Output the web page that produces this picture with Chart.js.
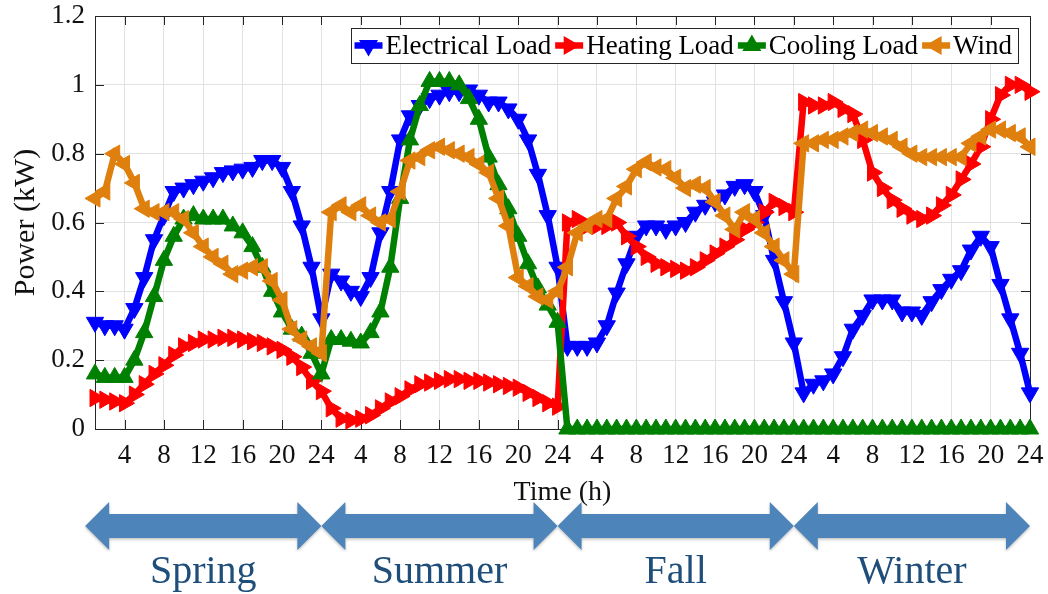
<!DOCTYPE html>
<html>
<head>
<meta charset="utf-8">
<script src="https://cdn.jsdelivr.net/npm/chart.js@4.4.1/dist/chart.umd.min.js"></script>
<style>
  html, body { margin: 0; padding: 0; background: #fff; }
</style>
</head>
<body>
<canvas id="powerChart" width="1048" height="594"></canvas>
<script>
// 24 hourly values per season, in the order spring, summer, fall, winter
const seasons = ['Spring', 'Summer', 'Fall', 'Winter'];
const xTickHours = [4, 8, 12, 16, 20, 24, 28, 32, 36, 40, 44, 48,
                    52, 56, 60, 64, 68, 72, 76, 80, 84, 88, 92, 96];

const electricalLoad = [
  0.31, 0.30, 0.30, 0.29, 0.35, 0.44, 0.55, 0.62, 0.69, 0.70, 0.71, 0.72,
  0.73, 0.745, 0.75, 0.755, 0.76, 0.78, 0.78, 0.76, 0.69, 0.59, 0.47, 0.32,
  0.45, 0.43, 0.40, 0.385, 0.44, 0.57, 0.69, 0.84, 0.91, 0.94, 0.96, 0.97,
  0.98, 0.98, 0.985, 0.97, 0.95, 0.95, 0.93, 0.90, 0.84, 0.74, 0.62, 0.47,
  0.24, 0.24, 0.24, 0.25, 0.30, 0.395, 0.48, 0.56, 0.59, 0.59, 0.58, 0.59,
  0.60, 0.63, 0.65, 0.66, 0.68, 0.705, 0.71, 0.69, 0.62, 0.49, 0.37, 0.25,
  0.105, 0.13, 0.14, 0.16, 0.21, 0.29, 0.33, 0.375, 0.375, 0.375, 0.34, 0.34,
  0.33, 0.37, 0.405, 0.435, 0.46, 0.52, 0.56, 0.53, 0.42, 0.32, 0.22, 0.105
];
const heatingLoad = [
  0.09, 0.085, 0.08, 0.075, 0.10, 0.13, 0.16, 0.185, 0.215, 0.24, 0.25, 0.26,
  0.26, 0.265, 0.265, 0.26, 0.255, 0.25, 0.24, 0.23, 0.21, 0.18, 0.14, 0.11,
  0.06, 0.03, 0.025, 0.03, 0.04, 0.06, 0.08, 0.095, 0.115, 0.13, 0.135, 0.14,
  0.145, 0.145, 0.14, 0.14, 0.135, 0.13, 0.125, 0.12, 0.105, 0.09, 0.075, 0.065,
  0.60, 0.61, 0.59, 0.59, 0.59, 0.60, 0.56, 0.53, 0.50, 0.48, 0.47, 0.465,
  0.46, 0.47, 0.49, 0.51, 0.53, 0.55, 0.58, 0.60, 0.63, 0.66, 0.645, 0.63,
  0.95, 0.94, 0.94, 0.95, 0.93, 0.915, 0.84, 0.745, 0.70, 0.665, 0.64, 0.62,
  0.61, 0.62, 0.65, 0.68, 0.725, 0.77, 0.82, 0.90, 0.97, 1.00, 1.00, 0.98
];
const coolingLoad = [
  0.16, 0.15, 0.15, 0.15, 0.20, 0.28, 0.385, 0.49, 0.56, 0.61, 0.62, 0.61,
  0.61, 0.61, 0.59, 0.57, 0.53, 0.47, 0.40, 0.34, 0.29, 0.27, 0.22, 0.16,
  0.26, 0.26, 0.255, 0.25, 0.28, 0.34, 0.47, 0.67, 0.84, 0.94, 1.01, 1.01,
  1.01, 1.00, 0.96, 0.90, 0.79, 0.71, 0.64, 0.56, 0.48, 0.41, 0.36, 0.31,
  0, 0, 0, 0, 0, 0, 0, 0, 0, 0, 0, 0,
  0, 0, 0, 0, 0, 0, 0, 0, 0, 0, 0, 0,
  0, 0, 0, 0, 0, 0, 0, 0, 0, 0, 0, 0,
  0, 0, 0, 0, 0, 0, 0, 0, 0, 0, 0, 0
];
const windPower = [
  0.67, 0.69, 0.80, 0.77, 0.715, 0.64, 0.63, 0.63, 0.63, 0.61, 0.57, 0.53,
  0.50, 0.48, 0.45, 0.46, 0.47, 0.47, 0.43, 0.375, 0.29, 0.26, 0.24, 0.22,
  0.63, 0.65, 0.63, 0.65, 0.62, 0.60, 0.61, 0.69, 0.78, 0.79, 0.81, 0.82,
  0.81, 0.80, 0.79, 0.77, 0.745, 0.67, 0.59, 0.44, 0.415, 0.385, 0.375, 0.40,
  0.47, 0.57, 0.59, 0.61, 0.61, 0.67, 0.705, 0.755, 0.775, 0.76, 0.755, 0.73,
  0.70, 0.71, 0.70, 0.66, 0.62, 0.58, 0.63, 0.61, 0.57, 0.53, 0.49, 0.45,
  0.83, 0.83, 0.84, 0.84, 0.85, 0.86, 0.87, 0.86, 0.85, 0.84, 0.82, 0.80,
  0.79, 0.79, 0.79, 0.79, 0.79, 0.83, 0.85, 0.87, 0.87, 0.86, 0.85, 0.82
];

const FONT = '"Liberation Serif", "Times New Roman", serif';
const AXIS = '#262626';

function series(label, values, color, rotation, order) {
  return {
    label: label,
    order: order,
    data: values.map((v, i) => ({ x: i + 1, y: v })),
    borderColor: color,
    backgroundColor: color,
    borderWidth: 6.5,
    tension: 0,
    pointStyle: 'triangle',
    pointRotation: rotation,
    pointRadius: 10,
    pointHoverRadius: 10,
    pointBorderWidth: 1,
    pointBackgroundColor: color,
    pointBorderColor: color,
    clip: false
  };
}

function triangle(ctx, x, y, r, rot, color) {
  const a0 = rot * Math.PI / 180;
  ctx.beginPath();
  for (let k = 0; k < 3; k++) {
    const a = a0 + k * 2 * Math.PI / 3;
    const px = x + Math.sin(a) * r, py = y - Math.cos(a) * r;
    if (k === 0) ctx.moveTo(px, py); else ctx.lineTo(px, py);
  }
  ctx.closePath();
  ctx.fillStyle = color;
  ctx.fill();
}

// axes box with inward tick marks, drawn under the lines
const axesBox = {
  id: 'axesBox',
  beforeDatasetsDraw(chart) {
    const { ctx, chartArea: a, scales: { x, y } } = chart;
    const tl = 9;
    ctx.save();
    ctx.strokeStyle = AXIS;
    ctx.lineWidth = 1;
    ctx.beginPath();
    xTickHours.forEach(h => {
      const px = Math.round(x.getPixelForValue(h)) + 0.5;
      ctx.moveTo(px, a.bottom); ctx.lineTo(px, a.bottom - tl);
      ctx.moveTo(px, a.top); ctx.lineTo(px, a.top + tl);
    });
    y.ticks.forEach(t => {
      const py = Math.round(y.getPixelForValue(t.value)) + 0.5;
      ctx.moveTo(a.left, py); ctx.lineTo(a.left + tl, py);
      ctx.moveTo(a.right, py); ctx.lineTo(a.right - tl, py);
    });
    ctx.stroke();
    ctx.strokeRect(Math.round(a.left) + 0.5, Math.round(a.top) + 0.5,
                   Math.round(a.right - a.left), Math.round(a.bottom - a.top));
    ctx.restore();
  }
};

// boxed legend in the upper right and the season arrows under the axis
const extras = {
  id: 'extras',
  afterDraw(chart) {
    const { ctx, chartArea: a, scales: { x } } = chart;
    ctx.save();

    ctx.font = '27px ' + FONT;
    const items = chart.data.datasets.map(ds => ({
      label: ds.label, color: ds.borderColor, rot: ds.pointRotation,
      w: ctx.measureText(ds.label).width
    }));
    const iconW = 28, gapIcon = 3, gapItem = 4, padL = 4, padR = 6, boxH = 35;
    const boxW = padL + padR + gapItem * (items.length - 1) +
      items.reduce((s, it) => s + iconW + gapIcon + it.w, 0);
    const boxR = a.right - 12, boxT = a.top + 12, boxL = boxR - boxW;
    ctx.fillStyle = '#fff';
    ctx.fillRect(boxL, boxT, boxW, boxH);
    ctx.strokeStyle = AXIS;
    ctx.lineWidth = 1;
    ctx.strokeRect(Math.round(boxL) + 0.5, boxT + 0.5, Math.round(boxW), boxH);
    const cy = boxT + boxH / 2;
    let cx = boxL + padL;
    items.forEach(it => {
      ctx.strokeStyle = it.color;
      ctx.lineWidth = 6.5;
      ctx.beginPath();
      ctx.moveTo(cx, cy); ctx.lineTo(cx + iconW, cy);
      ctx.stroke();
      triangle(ctx, cx + iconW / 2, cy, 11, it.rot, it.color);
      ctx.fillStyle = '#000';
      ctx.textAlign = 'left';
      ctx.textBaseline = 'middle';
      ctx.fillText(it.label, cx + iconW + gapIcon, cy + 1);
      cx += iconW + gapIcon + it.w + gapItem;
    });

    const ay = 526, head = 24, headHalf = 24, shaftHalf = 12;
    seasons.forEach((name, k) => {
      const x0 = x.getPixelForValue(24 * k), x1 = x.getPixelForValue(24 * k + 24);
      ctx.save();
      ctx.shadowColor = 'rgba(0, 0, 0, 0.25)';
      ctx.shadowBlur = 3;
      ctx.shadowOffsetY = 1.5;
      ctx.beginPath();
      ctx.moveTo(x0, ay);
      ctx.lineTo(x0 + head, ay - headHalf);
      ctx.lineTo(x0 + head, ay - shaftHalf);
      ctx.lineTo(x1 - head, ay - shaftHalf);
      ctx.lineTo(x1 - head, ay - headHalf);
      ctx.lineTo(x1, ay);
      ctx.lineTo(x1 - head, ay + headHalf);
      ctx.lineTo(x1 - head, ay + shaftHalf);
      ctx.lineTo(x0 + head, ay + shaftHalf);
      ctx.lineTo(x0 + head, ay + headHalf);
      ctx.closePath();
      ctx.fillStyle = '#4d84b9';
      ctx.fill();
      ctx.restore();

      ctx.font = '40px ' + FONT;
      ctx.fillStyle = '#1f4e7a';
      ctx.textAlign = 'center';
      ctx.textBaseline = 'alphabetic';
      ctx.fillText(name, (x0 + x1) / 2, 583);
    });
    ctx.restore();
  }
};

new Chart(document.getElementById('powerChart'), {
  type: 'line',
  data: {
    datasets: [
      series('Electrical Load', electricalLoad, '#0000ff', 180, 4),
      series('Heating Load', heatingLoad, '#ff0000', 90, 3),
      series('Cooling Load', coolingLoad, '#008000', 0, 2),
      series('Wind', windPower, '#df7f0d', 270, 1)
    ]
  },
  options: {
    responsive: false,
    animation: false,
    events: [],
    layout: { padding: { left: 0, top: 16, right: 18, bottom: 85 } },
    plugins: { legend: { display: false }, tooltip: { enabled: false } },
    scales: {
      x: {
        type: 'linear',
        min: 1,
        max: 96,
        afterBuildTicks: scale => { scale.ticks = xTickHours.map(v => ({ value: v })); },
        afterFit: scale => {
          scale.height = 80;
          scale.paddingLeft = 0;
          scale.paddingRight = 0;
        },
        grid: { color: '#e2e2e2', drawTicks: false },
        border: { display: false },
        ticks: {
          autoSkip: false,
          maxRotation: 0,
          padding: 11,
          color: '#111',
          font: { family: FONT, size: 27 },
          callback: v => ((v - 1) % 24) + 1
        },
        title: {
          display: true,
          text: 'Time (h)',
          color: '#111',
          padding: 0,
          font: { family: FONT, size: 28 }
        }
      },
      y: {
        min: 0,
        max: 1.2,
        afterFit: scale => {
          scale.width = 95;
          scale.paddingTop = 0;
          scale.paddingBottom = 0;
        },
        grid: { color: '#e2e2e2', drawTicks: false },
        border: { display: false },
        ticks: {
          stepSize: 0.2,
          padding: 10,
          color: '#111',
          font: { family: FONT, size: 27 },
          callback: v => String(+v.toFixed(1))
        },
        title: {
          display: true,
          text: 'Power (kW)',
          color: '#111',
          padding: { top: 8, bottom: 0 },
          font: { family: FONT, size: 30 }
        }
      }
    }
  },
  plugins: [axesBox, extras]
});
</script>
</body>
</html>
